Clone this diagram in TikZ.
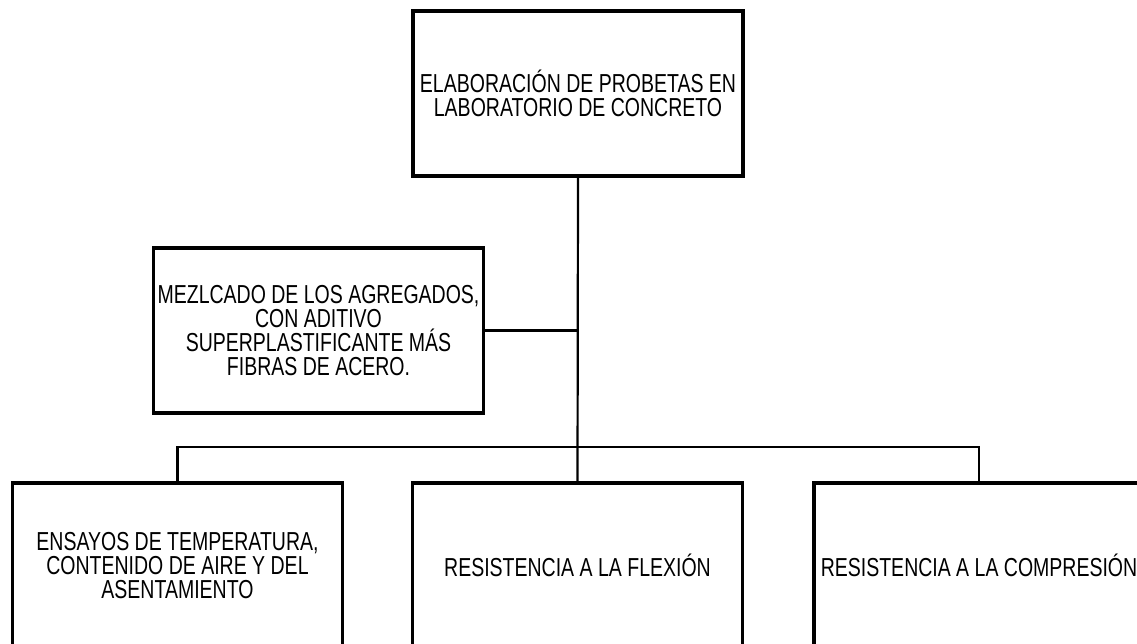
\documentclass[tikz,border=0pt]{standalone}
\usepackage{fontspec}
\setmainfont{Liberation Sans}[FakeStretch=0.75]
\usepackage{tikz}
\begin{document}
\begin{tikzpicture}[x=1pt,y=1pt,line cap=rect,line join=miter,
  caja/.style={draw=black,line width=3.2pt,minimum width=330pt,minimum height=165pt,inner sep=0pt,align=center,font=\fontsize{26}{24}\selectfont},
  enlace/.style={draw=black,line width=2.2pt}]
\clip (0,0) rectangle (1137,644);
\node[caja] (top) at (578,550.5) {ELABORACIÓN DE PROBETAS EN\\LABORATORIO DE CONCRETO};
\node[caja] (mezcla) at (318.5,313.5) {MEZLCADO DE LOS AGREGADOS,\\CON ADITIVO\\SUPERPLASTIFICANTE MÁS\\FIBRAS DE ACERO.};
\node[caja] (ensayos) at (177.5,78.5) {ENSAYOS DE TEMPERATURA,\\CONTENIDO DE AIRE Y DEL\\ASENTAMIENTO};
\node[caja] (flexion) at (577.5,78.5) {RESISTENCIA A LA FLEXIÓN};
\node[caja] (compresion) at (979,78.5) {RESISTENCIA A LA COMPRESIÓN};
\coordinate (bus) at (577.5,197);
\draw [enlace] (top.south) -- (flexion.north);
\draw [enlace] (mezcla.east) -- (mezcla.east -| top.south);
\draw [enlace] (ensayos.north) |- (bus) -| (compresion.north);
\end{tikzpicture}
\end{document}
